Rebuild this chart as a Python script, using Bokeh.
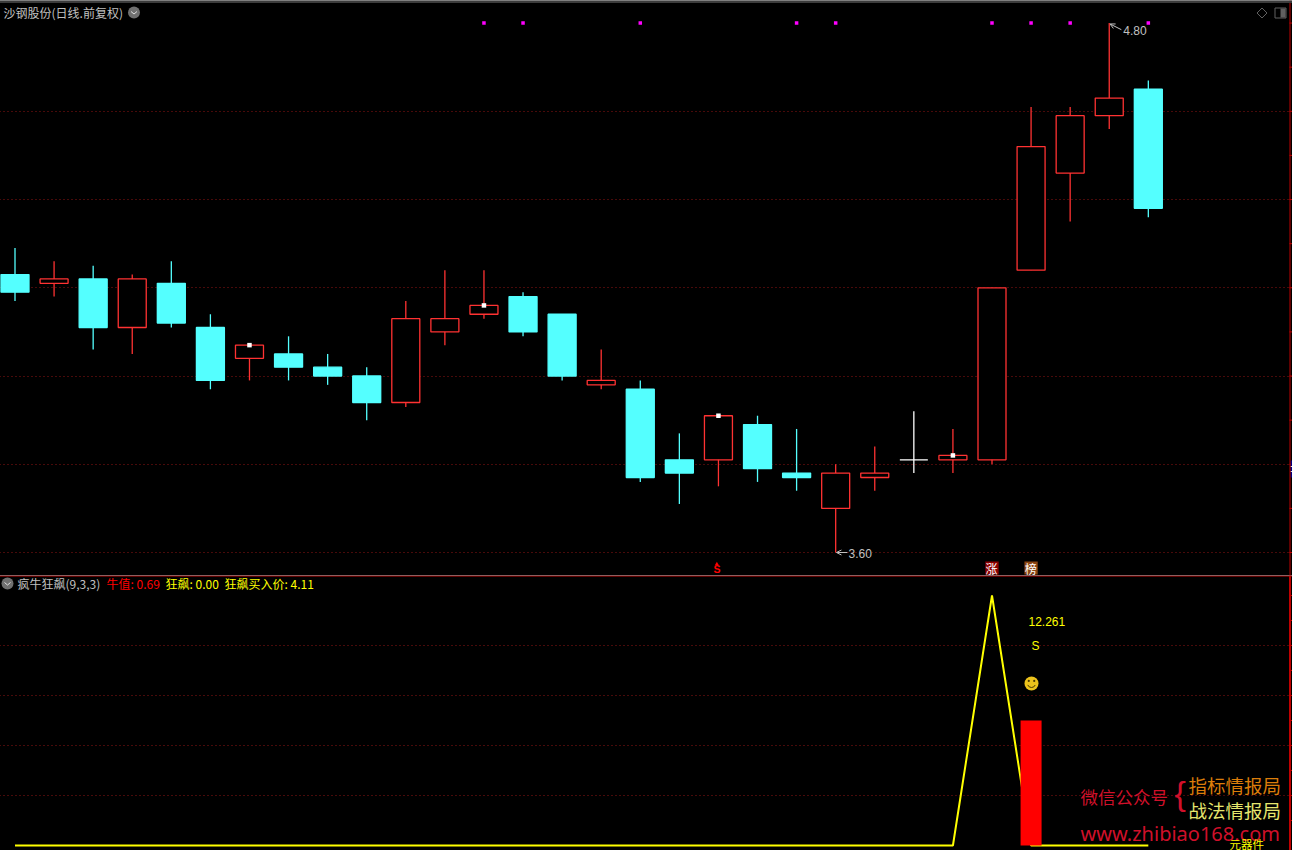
from bokeh.plotting import figure
from bokeh.layouts import column
from bokeh.models import FixedTicker, Span, Range1d, Arrow, OpenHead
from bokeh.core.properties import value
from bokeh.embed import file_html
from bokeh.resources import INLINE

# ---- data ----
opens  = [4.23,4.21,4.22,4.11,4.21,4.11,4.04,4.05,4.02,4.00,3.94,4.10,4.14,4.18,4.14,3.98,3.97,3.81,3.81,3.89,3.78,3.70,3.77,3.81,3.81,3.81,4.24,4.46,4.59,4.65]
closes = [4.19,4.22,4.11,4.22,4.12,3.99,4.07,4.02,4.00,3.94,4.13,4.13,4.16,4.10,4.00,3.99,3.77,3.78,3.91,3.79,3.77,3.78,3.78,3.81,3.82,4.20,4.52,4.59,4.63,4.38]
highs  = [4.29,4.26,4.25,4.23,4.26,4.14,4.07,4.09,4.05,4.02,4.17,4.24,4.24,4.19,4.14,4.06,3.99,3.87,3.91,3.91,3.88,3.80,3.84,3.92,3.88,4.20,4.61,4.61,4.80,4.67]
lows   = [4.17,4.18,4.06,4.05,4.11,3.97,3.99,3.99,3.98,3.90,3.93,4.07,4.13,4.09,3.99,3.97,3.76,3.71,3.75,3.76,3.74,3.60,3.74,3.78,3.78,3.80,4.24,4.35,4.56,4.36]
white_dot_idx = [6,12,18,24]
magenta_idx = [12,13,16,20,21,25,26,27,29]
indicator_line = [0]*25 + [24.52] + [0]*4
bar_idx = [26]
bar_value = [12.261]
price_grid = [3.6,3.8,4.0,4.2,4.4,4.6]
price_ticks = [3.6,3.7,3.8,3.9,4.0,4.1,4.2,4.3,4.4,4.5,4.6,4.7,4.8]
ind_grid = [4.9,9.81,14.71,19.62]
ind_ticks = [2.45,4.9,7.36,9.81,12.26,14.71,17.17,19.62,22.07,24.52]

TITLE = "沙钢股份(日线.前复权)"
CN = "Noto Sans CJK SC"
LAT = "Liberation Sans"
BG = "#000000"
RED = "#ff3232"
CYAN = "#54ffff"
GRID = "#901414"
AXIS = "#c00000"

# ---- scale: about 39.1 px per session; price 441.2 px per yuan ----
def X(px): return (px-14.5)/39.08
def P(py): return 3.6+(552-py)/441.2
def V(py): return (845-py)/10.195

def base(h, y0, y1):
    p = figure(width=1293, height=h, output_backend="svg", toolbar_location=None,
               x_range=Range1d(X(-1),X(1292)), y_range=Range1d(y0,y1),
               background_fill_color=BG, border_fill_color=BG, outline_line_color=None,
               min_border_left=0, min_border_right=0, min_border_top=0, min_border_bottom=0,
               x_axis_location=None, y_axis_location=None)
    p.xgrid.visible = False
    return p

def text(p, x, y, s, color, size=12, font=CN, align="left", weight="normal"):
    p.text([x],[y],text=[s],text_color=color,text_font=value(font),text_font_size=f"{size}px",
           text_align=align,text_baseline="middle",text_font_style=weight)

def right_axis(p, ticks, width):
    p.segment([X(1289)]*len(ticks), ticks, [X(1292)]*len(ticks), ticks, line_color=AXIS, line_width=1)
    p.add_layout(Span(location=X(1289.5),dimension="height",line_color=AXIS,line_width=width))

# ---- price panel ----
top = base(575, P(575), P(0))
top.ygrid.ticker = FixedTicker(ticks=price_grid)
top.ygrid.grid_line_color = GRID
top.ygrid.grid_line_dash = "1 3"
right_axis(top, price_ticks, 1)

xs = list(range(len(opens)))
def colour(i):
    if closes[i] == opens[i]: return "#ffffff"
    return RED if closes[i] > opens[i] else CYAN
cols = [colour(i) for i in xs]
fills = [CYAN if c == CYAN else BG for c in cols]
top.segment(xs, highs, xs, lows, line_color=cols, line_width=1.3)
top.vbar(x=xs, bottom=opens, top=closes, width=28/39.08, fill_color=fills, line_color=cols, line_width=1.3)
top.scatter(white_dot_idx, [closes[i] for i in white_dot_idx], marker="square", size=4.5,
            fill_color="#ffffff", line_color=None)
top.scatter(magenta_idx, [4.80]*len(magenta_idx), marker="square", size=3.5,
            fill_color="#ff00ff", line_color=None)

# extreme price labels
hi_i = highs.index(max(highs)); lo_i = lows.index(min(lows))
top.add_layout(Arrow(end=OpenHead(size=5,line_color="#c0c0c0",line_width=1), x_start=hi_i+0.31, y_start=highs[hi_i]-0.015,
                     x_end=hi_i+0.02, y_end=highs[hi_i]-0.002, line_color="#c0c0c0", line_width=1))
text(top, hi_i+0.36, highs[hi_i]-0.016, f"{highs[hi_i]:.2f}", "#c0c0c0", 12, LAT)
top.add_layout(Arrow(end=OpenHead(size=5,line_color="#c0c0c0",line_width=1), x_start=lo_i+0.3, y_start=lows[lo_i],
                     x_end=lo_i+0.02, y_end=lows[lo_i], line_color="#c0c0c0", line_width=1))
text(top, lo_i+0.33, lows[lo_i]-0.002, f"{lows[lo_i]:.2f}", "#c0c0c0", 12, LAT)

# header
text(top, X(3), P(11.5), TITLE, "#c0c0c0", 12)
top.scatter([X(133.5)],[P(12)],marker="circle",size=12,fill_color="#707070",line_color=None)
top.line([X(130.5),X(133.5),X(136.5)],[P(11),P(13.5),P(11)],line_color="#e0e0e0",line_width=1)
top.line([X(1256.5),X(1261.5),X(1266.5),X(1261.5),X(1256.5)],[P(12.5),P(7.5),P(12.5),P(17.5),P(12.5)],line_color="#606060",line_width=1)
top.quad(left=[X(1274.5)],right=[X(1285.5)],top=[P(7.5)],bottom=[P(17.5)],fill_color=None,line_color="#606060",line_width=1)
top.quad(left=[X(1280)],right=[X(1285)],top=[P(8)],bottom=[P(17)],fill_color="#606060",line_color=None)
top.add_layout(Span(location=P(1.5),dimension="width",line_color="#3c3c3c",line_width=2))

# event marks
top.quad(left=[25-0.17,26-0.17],right=[25+0.17,26+0.17],bottom=[P(574)]*2,top=[P(561)]*2,
         fill_color=["#8b0000","#8b4513"],line_color=None)
text(top, 25-0.01, P(567.5), "涨", "#ffffff", 12, CN, "center")
text(top, 26-0.01, P(567.5), "榜", "#ffffff", 12, CN, "center")
text(top, 18-0.04, P(568.5), "S", "#ff0000", 10.5, LAT, "center", "bold")
top.scatter([18-0.04],[P(563.5)],marker="triangle",size=4,fill_color="#ff0000",line_color=None)
top.quad(left=[X(1290)],right=[X(1292)],top=[P(460)],bottom=[P(477)],fill_color="#000080",line_color=None)
top.segment([X(1290)]*2,[P(466),P(471)],[X(1292)]*2,[P(466),P(471)],line_color="#e0e0e0",line_width=1)

# ---- indicator panel ----
bot = base(275, V(850), V(575))
bot.ygrid.ticker = FixedTicker(ticks=ind_grid)
bot.ygrid.grid_line_color = GRID
bot.ygrid.grid_line_dash = "1 3"
right_axis(bot, ind_ticks, 2)
bot.add_layout(Span(location=V(575.5),dimension="width",line_color=AXIS,line_width=1))

bot.line(xs, indicator_line, line_color="#ffff00", line_width=2)
bot.vbar(x=bar_idx, bottom=0, top=bar_value, width=21/39.08, fill_color="#ff0000", line_color=None)

text(bot, X(1028), V(620.5), f"{bar_value[0]:.3f}", "#ffff00", 12, LAT)
text(bot, X(1035), V(645), "S", "#ffff00", 12, LAT, "center")
sx, sy = X(1031), V(683)
bot.scatter([sx],[sy],marker="circle",size=14,fill_color="#ecc31c",line_color=None)
bot.scatter([sx-0.07,sx+0.07],[sy+0.25]*2,marker="circle",size=2.2,fill_color="#4a3a00",line_color=None)
bot.arc([sx],[sy],radius=4,radius_units="screen",start_angle=3.5,end_angle=5.9,line_color="#4a3a00",line_width=1)

# legend line
bot.scatter([X(7)],[V(583)],marker="circle",size=12,fill_color="#707070",line_color=None)
bot.line([X(4),X(7),X(10)],[V(582),V(584.5),V(582)],line_color="#e0e0e0",line_width=1)
text(bot, X(17), V(583), "疯牛狂飙(9,3,3)", "#c0c0c0", 12)
text(bot, X(106), V(583), "牛值: 0.69", "#ff0000", 12)
text(bot, X(165), V(583), "狂飙: 0.00", "#ffff00", 12)
text(bot, X(224), V(583), "狂飙买入价: 4.11", "#ffff00", 12)

# watermark
text(bot, X(1080), V(796), "微信公众号", "#d0102a", 17.5)
text(bot, X(1174), V(792), "{", "#d0102a", 34, "Liberation Sans")
text(bot, X(1188), V(784), "指标情报局", "#dc7d0a", 18.5)
text(bot, X(1188), V(809), "战法情报局", "#e6e66e", 18.5)
text(bot, X(1080), V(833), "www.zhibiao168.com", "#d0102a", 20, "Noto Sans")
text(bot, X(1229), V(843), "元器件", "#ffff00", 11.5)

page = column(top, bot, spacing=0, margin=(0,0,0,-1))
open("out.html","w").write(file_html(page, INLINE))
